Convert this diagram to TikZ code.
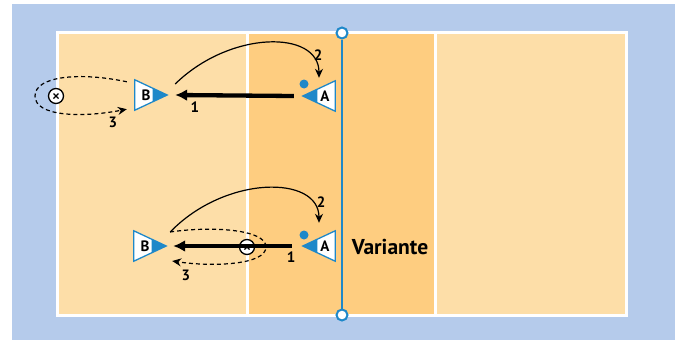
\documentclass[tikz,border=0pt]{standalone}
\usepackage{fontspec}
\setmainfont{PT Sans}
\usetikzlibrary{arrows.meta, calc}

\definecolor{bgblue}{RGB}{181,203,235}
\definecolor{courtlight}{RGB}{253,222,168}
\definecolor{courtdark}{RGB}{254,205,128}
\definecolor{netblue}{RGB}{30,136,201}

\tikzset{
  player/.style={minimum width=32pt, minimum height=30pt, inner sep=0pt},
  plshape/.style={draw=netblue, fill=white, line width=1.3pt, line join=miter},
  num/.style={font=\bfseries\fontsize{15}{15}\selectfont, inner sep=0pt},
  ball/.style={circle, draw, fill=white, line width=1.3pt, minimum size=15pt, inner sep=0pt},
  pole/.style={circle, draw=netblue, fill=white, line width=2pt, minimum size=11pt, inner sep=0pt},
  shot/.style={line width=4.3pt, -{Latex[length=12pt,width=12pt]}},
  pass/.style={line width=1.2pt, -{Stealth[length=9pt,width=8pt]}},
  run/.style={dash pattern=on 4pt off 3pt, line width=1.2pt, -{Stealth[length=9pt,width=8pt]}}
}

\begin{document}
\begin{tikzpicture}[x=1pt, y=-1pt]
	% background and court
	\fill[white] (0,0) rectangle (675,340);
	\fill[bgblue] (12,4) rectangle (675,340);
	\fill[courtlight] (57,32) rectangle (626,315);
	\fill[courtdark] (247,32) rectangle (435,315);
	\draw[white, line width=3pt] (57,32) rectangle (626,315);
	\draw[white, line width=3pt] (247,32) -- (247,315);
	\draw[white, line width=3pt] (435,32) -- (435,315);

	% net
	\node[pole] (poletop) at (342,33) {};
	\node[pole] (polebot) at (342,315) {};
	\draw[netblue, line width=2.5pt] (poletop) -- (polebot);

	% players
	\node[player] (pb1) at (151,95) {};
	\node[player] (pa1) at (319,96) {};
	\node[player] (pb2) at (150,246) {};
	\node[player] (pa2) at (319,246) {};
	\foreach \p/\back/\tip in {pb1/west/east, pa1/east/west, pb2/west/east, pa2/east/west}{
		\filldraw[plshape] (\p.north \back) -- (\p.\tip) -- (\p.south \back) -- cycle;
		\fill[netblue] (\p.\tip) -- ($(\p.north \back)!0.55!(\p.\tip)$) -- ($(\p.south \back)!0.55!(\p.\tip)$) -- cycle;
	}
	\node[num] (lb1) at ([xshift=-5pt]pb1.center) {B};
	\node[num] (la1) at ([xshift=6pt]pa1.center) {A};
	\node[num] (lb2) at ([xshift=-5pt]pb2.center) {B};
	\node[num] (la2) at ([xshift=6pt]pa2.center) {A};

	% balls
	\fill[netblue] (304,84) circle (4.5);
	\fill[netblue] (304,235) circle (4.5);
	\node[ball] (x1) at (56,96) {};
	\node[ball] (x2) at (247,247) {};
	\foreach \b in {x1, x2}
		\draw[line width=1.2pt] ([shift={(-2.5pt,-2.5pt)}]\b.center) -- ([shift={(2.5pt,2.5pt)}]\b.center)
			([shift={(-2.5pt,2.5pt)}]\b.center) -- ([shift={(2.5pt,-2.5pt)}]\b.center);

	% upper drill
	\draw[shot] ([xshift=-9pt]pa1.west) -- ([xshift=8pt]pb1.east);
	\draw[pass] ([xshift=8pt,yshift=11pt]pb1.east) .. controls +(55,-54) and +(0,-48) .. ([yshift=3pt]pa1.north);
	\draw[run] ([xshift=-8pt,yshift=-2pt]pb1.north west) .. controls +(-47,-10) and +(0,-20) .. ([xshift=-21pt]x1.center)
		.. controls +(0,20) and +(-47,9) .. ([xshift=-8pt,yshift=1pt]pb1.south west);
	\node[num] (t1) at (195,107) {1};
	\node[num] (t2) at (318,55) {2};
	\node[num] (t3) at (113,122) {3};

	% lower drill
	\draw[shot] ([xshift=-11pt]pa2.west) -- ([xshift=7pt]pb2.east);
	\draw[pass] ([xshift=4pt,yshift=14pt]pb2.east) .. controls +(55,-57) and +(0,-48) .. ([yshift=8pt]pa2.north);
	\draw[run] ([xshift=4pt,yshift=14pt]pb2.east) .. controls +(40,-6) and +(0,-18) .. ([xshift=19pt]x2.center)
		.. controls +(0,18) and +(40,6) .. ([xshift=6pt,yshift=-15pt]pb2.east);
	\node[num] (u1) at (291,257) {1};
	\node[num] (u2) at (321,202) {2};
	\node[num] (u3) at (186,275) {3};

	\node[font=\bfseries\fontsize{21.5}{21.5}\selectfont] (var) at (390,247) {Variante};
\end{tikzpicture}
\end{document}
